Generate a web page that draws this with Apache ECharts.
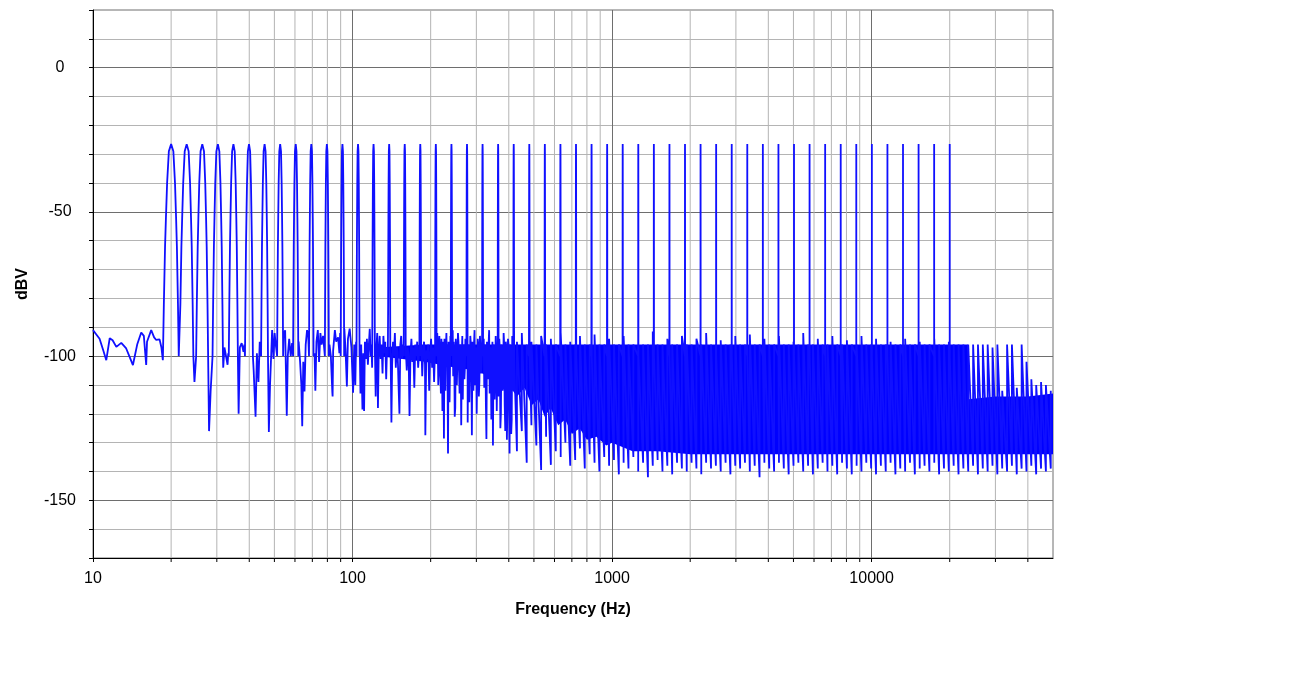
<!DOCTYPE html>
<html>
<head>
  <meta charset="utf-8">
  <script src="https://cdn.jsdelivr.net/npm/echarts@6/dist/echarts.min.js"></script>
  <style>html,body{margin:0;padding:0;background:#fff;}</style>
</head>
<body>
<div id="main" style="width:1289px;height:698px;"></div>
<script type="text/javascript">
// multitone test signal, 51 tones 20 Hz .. 20 kHz
var toneFreqs = [20, 22.96, 26.37, 30.28, 34.76, 39.91, 45.83, 52.62, 60.41, 69.37,
  79.64, 91.44, 105, 120.5, 138.4, 158.9, 182.4, 209.4, 240.5, 276.1,
  317, 363.9, 417.9, 479.8, 550.8, 632.5, 726.2, 833.7, 957.3, 1099,
  1262, 1449, 1664, 1910, 2193, 2518, 2891, 3319, 3811, 4376,
  5024, 5768, 6623, 7604, 8730, 10024, 11509, 13214, 15172, 17419, 20000];

// shape of one tone (offset in Hz from the tone, level in dBV)
var toneOffsetHz = [-1.4, -1.25, -1.05, -0.9, -0.7, -0.4, 0, 0.4, 0.7, 0.9, 1.05, 1.25, 1.4];
var toneShapeDb  = [-100, -82, -62, -52, -40, -29, -26.5, -29, -40, -52, -62, -82, -100];

// noise floor below ~105 Hz
var lowNoise = [
  [10,-91],[10.3,-92.5],[10.6,-94],[10.95,-98],[11.25,-101.4],[11.6,-93.8],[11.9,-94.5],
  [12.3,-96.8],[12.85,-95.4],[13.4,-97.2],[13.8,-100],[14.25,-103.1],[14.8,-96],[15.34,-91.8],
  [15.7,-93],[16.03,-103.1],[16.15,-95],[16.76,-91],[17.2,-93.5],[17.52,-94.4],[18.05,-94.2],
  [18.35,-97],[18.58,-101.4],
  [24.6,-109],
  [28.0,-126],[28.4,-112],
  [31.75,-104],[32.1,-97],[32.6,-96.5],[33.0,-103],[33.2,-99],
  [36.4,-120],[36.8,-97],[37.4,-95.5],[38.0,-98.5],[38.3,-96],
  [41.6,-105],[42.3,-121],[42.8,-99],[43.4,-109],[43.9,-95],[44.2,-97],
  [47.6,-126.3],[48.1,-110],[49,-91],[49.6,-101],[50.1,-92],[50.6,-96],
  [54.2,-93],[55.0,-91],[55.8,-120.7],[56.3,-100],[57,-94],[57.8,-100],[58.5,-95.5],
  [62,-95],[62.8,-102],[63.5,-110],[64,-124.3],[64.6,-102],[65.3,-112.3],[66,-96],[66.8,-91],[67.5,-93],
  [71.4,-99],[71.9,-112],[72.6,-95],[73.5,-91],[74.3,-102],[75.2,-92],[76,-96],[77,-93],
  [81.5,-96],[82.5,-100],[83.6,-112.7],[83.8,-114],[84.2,-98],[85.5,-91],[86.5,-95],[88,-93.5],[89,-99],[89.6,-92],
  [93,-90.5],[94,-98],[95.1,-110.5],[96,-94],[97.5,-90.5],[99,-97],[100.5,-112.7],[101.5,-96],[102.5,-110],[103.2,-95]
];

// noise floor 105 .. 420 Hz
var midNoise = [
  [106.6,-97],[107.3,-113],[108,-96],[109.2,-118.5],[110,-99],[110.8,-119],[111.6,-95],[112.6,-101],
  [113.6,-94],[114.6,-103],[115.5,-96.5],[116.5,-90.5],[117.4,-100],[118.2,-96],[119.0,-104],
  [122.0,-98],[122.8,-114],[123.6,-97],[124.5,-92],[125.3,-118],[126.2,-98],[127.2,-93],[128.3,-101],
  [129.4,-96],[130.5,-106],[131.5,-93],[132.6,-99],[133.7,-95],[134.8,-108],[135.8,-97],[136.8,-100],
  [140.2,-99],[141.2,-123],[142.1,-103],[143.2,-95],[144.4,-100],[145.6,-92],[146.8,-104],[148,-97],
  [149.2,-98.5],[150.4,-110],[151.6,-120],[152.8,-96],[154,-93],[155.3,-101],[156.5,-96],[157.3,-99],
  [160.5,-98],[161.8,-105],[163.1,-97],[164.5,-100],[165.8,-120.8],[167.2,-99],[168.6,-94],[170,-102],
  [171.5,-97],[173,-111],[174.5,-96],[176,-100],[177.5,-95],[179,-104],[180.5,-98],
  [184.2,-96],[185.6,-107],[187,-99],[188.6,-95],[190.2,-103],[190.8,-127.4],[192.4,-98],[194,-101],
  [195.7,-96],[197.4,-112],[199.1,-99],[200.8,-94],[202.6,-104],[204.4,-97],[206.2,-109],[207.8,-98],
  [211,-100],[212,-92],[213,-96],[214,-110],[215,-105],[216,-93],[217,-98],[218,-106],[219,-113],
  [220,-94],[221,-99],[222,-119],[223,-95],[224,-100],[225,-128.6],[226,-94],[227,-101],[228,-112],
  [229,-97],[230,-92],[231,-103],[232,-96],[233.3,-133.8],[234.4,-95],[235.5,-98],[236.5,-116],
  [237.5,-104],[238.3,-93],[239,-97],
  [242,-96],[243.2,-91],[244.3,-107],[245.4,-95],[246.5,-99],[247.6,-121],[248.8,-118],[249.9,-94],
  [251,-97],[252.3,-110],[253.5,-102],[254.8,-92],[256,-95],[257.2,-105],[258.5,-113],[259.8,-96],
  [261,-97],[262.3,-124],[263.5,-101],[264.8,-93],[266,-115],[267.2,-97],[268.5,-96],[269.8,-108],
  [271,-104],[272.2,-94],[273.5,-98],
  [277.8,-123],[279.1,-96],[280.5,-99],[281.8,-116],[283,-106],[284.3,-93],[285.7,-96],[287,-104],
  [288.3,-127.4],[289.6,-95],[291,-100],[292.4,-112],[293.8,-96],[295.2,-91],[296.6,-110],[298,-97],
  [299.5,-98],[300.9,-120],[302.3,-104],[303.7,-94],[305.2,-96],[306.7,-114],[308.2,-109],[309.7,-93],
  [311.2,-97],[312.6,-106],[314,-102],[315.5,-98],
  [318.8,-99],[320.3,-94],[321.8,-111],[323.4,-96],[325,-97],[326.5,-117],[328,-128.7],[329.6,-95],
  [331.2,-100],[332.8,-108],[334.4,-96],[336,-91],[337.6,-113],[339.3,-97],[341,-98],[342.6,-122],
  [344.3,-103],[346,-95],[347.6,-131],[349.3,-96],[351,-97],[352.7,-115],[354.4,-108],[356.1,-93],
  [357.8,-99],[359.5,-119],[361.2,-104],[362.4,-97],
  [366,-114],[367.7,-94],[369.5,-98],[371.2,-125],[373,-120],[374.8,-96],[376.6,-99],[378.4,-112],
  [380.2,-110],[382.1,-92],[384,-96],[385.8,-117],[387.7,-126],[389.5,-95],[391.4,-97],[393.3,-129],
  [395.2,-118],[397.1,-94],[399,-96],[400.9,-112],[402.8,-133.8],[404.7,-96],[406.7,-98],[408.6,-127],
  [410.6,-122],[412.5,-93],[414.5,-96],[416.4,-112]
];

// dense noise band: solid core (upper and lower edge)
var bandFreqs  = [125, 190, 250, 300, 350, 400, 430, 460, 490, 520, 550, 580, 620, 660, 700, 750,
  800, 870, 950, 1000, 1200, 1500, 2000, 3000, 23500, 23600, 30000, 40000, 50000];
var bandTop    = [-97, -96, -96, -96, -96, -96, -96, -96, -96, -96, -96, -96, -96, -96, -96, -96,
  -96, -96, -96, -96, -96, -96, -96, -96, -96, -115, -114, -114, -113];
var bandBottom = [-100, -102, -104, -105, -108, -110, -114, -111, -117, -115, -121, -118, -124, -122, -127, -125,
  -129, -128, -131, -130, -133, -133, -134, -134, -134, -134, -134, -134, -134];

// dense noise band: spikes below and above the core
var spikeFreqs = [430, 449, 469, 489, 511, 533, 557, 581, 607, 634, 661, 690, 721, 752, 785, 820,
  856, 894, 933, 974, 1017, 1062, 1108, 1157, 1208, 1261, 1317, 1375, 1435, 1498, 1564, 1633,
  1705, 1780, 1858, 1940, 2025, 2114, 2207, 2304, 2406, 2512, 2622, 2738, 2858, 2984, 3115, 3252,
  3395, 3545, 3701, 3863, 4033, 4211, 4396, 4590, 4792, 5002, 5223, 5452, 5692, 5943, 6204, 6477,
  6762, 7060, 7370, 7695, 8033, 8387, 8756, 9141, 9543, 9963, 10402, 10859, 11337, 11836, 12357, 12901,
  13468, 14061, 14680, 15326, 16000, 16704, 17439, 18206, 19007, 19844, 20717, 21628, 22580, 23573, 24610, 25693,
  26824, 28004, 29236, 30523, 31866, 33268, 34732, 36260, 37855, 39521, 41260, 43075, 44970, 46949, 49015];
var spikeLow = [-133, -126, -137, -124, -131, -139.5, -128, -137.7, -133, -135, -130, -138, -136, -132, -139, -134,
  -137, -140, -135, -138, -136, -141, -137, -139, -135, -140, -137, -142, -138, -136, -140, -138,
  -141, -137, -139, -140, -137, -139, -141, -137, -139, -138, -140, -137, -141, -138, -139, -137,
  -140, -138, -142, -137, -139, -140, -137, -139, -141, -138, -137, -140, -138, -141, -139, -137,
  -140, -138, -141, -137, -139, -141, -138, -140, -137, -139, -141, -138, -140, -137, -141, -139,
  -140, -137, -141, -139, -138, -140, -137, -141, -139, -140, -138, -141, -139, -140, -138, -141,
  -139, -140, -138, -141, -139, -140, -138, -141, -139, -140, -138, -141, -139, -140, -139];
var spikeHigh = [-95, -92, -96, -95, -96, -93, -96, -94, -96, -92, -96, -95, -96, -93, -96, -96,
  -92.5, -96, -96, -94, -96, -96, -93, -96, -96, -94, -96, -96, -91.5, -96, -96, -94,
  -96, -96, -93, -96, -96, -94, -96, -92, -96, -96, -94.5, -96, -96, -93, -96, -96,
  -92.5, -96, -96, -94, -96, -96, -93, -96, -96, -95, -96, -92, -96, -96, -94, -96,
  -96, -93, -96, -96, -94.5, -96, -96, -93, -96, -96, -94, -96, -96, -95, -96, -96,
  -94, -96, -96, -95, -96, -96, -94, -96, -96, -95, -96, -96, -96, -96, -96, -96,
  -96, -96, -97, -96, -112, -96, -96, -111, -96, -102, -108, -110, -109, -110, -112];

// extra vertical grid lines inside each decade
var minorFreqs = [20, 30, 40, 50, 60, 70, 80, 90, 200, 300, 400, 500, 600, 700, 800, 900,
  2000, 3000, 4000, 5000, 6000, 7000, 8000, 9000, 20000, 30000, 40000];

var trace = lowNoise.concat(midNoise);
toneFreqs.forEach(function (f) {
  for (var i = 0; i < toneOffsetHz.length; i++) {
    trace.push([f + toneOffsetHz[i], toneShapeDb[i]]);
  }
});
spikeFreqs.forEach(function (f, i) {
  trace.push([f, spikeLow[i]]);
  trace.push([f, spikeHigh[i]]);
});
trace.sort(function (a, b) { return a[0] - b[0]; });

var minorColor = '#b4b4b4';
var majorColor = '#6e6e6e';
var font = "'Liberation Sans', Arial, sans-serif";

var myChart = echarts.init(document.getElementById('main'));
myChart.setOption({
  animation: false,
  backgroundColor: '#fff',
  grid: { left: 93, right: 236, top: 10, bottom: 140, show: true, borderColor: majorColor, borderWidth: 1 },
  xAxis: {
    type: 'log', logBase: 10, min: 10, max: 50000,
    name: 'Frequency (Hz)', nameLocation: 'middle', nameGap: 44,
    nameTextStyle: { fontFamily: font, fontSize: 16, fontWeight: 'bold', color: '#000' },
    axisLine: { show: true, onZero: false, lineStyle: { color: '#000', width: 1 } },
    axisTick: { show: true, length: 4, lineStyle: { color: '#000' } },
    axisLabel: {
      margin: 13, fontFamily: font, fontSize: 16, color: '#000', showMaxLabel: false,
      formatter: function (v) {
        var l = Math.log(v) / Math.LN10;
        return Math.abs(l - Math.round(l)) < 1e-6 ? String(Math.round(v)) : '';
      }
    },
    splitLine: { show: true, showMaxLine: false, lineStyle: { color: majorColor, width: 1 } }
  },
  yAxis: {
    type: 'value', min: -170, max: 20, interval: 10,
    name: 'dBV', nameLocation: 'middle', nameGap: 62, nameRotate: 90,
    nameTextStyle: { fontFamily: font, fontSize: 16, fontWeight: 'bold', color: '#000' },
    axisLine: { show: true, onZero: false, lineStyle: { color: '#000', width: 1 } },
    axisTick: { show: true, length: 4, lineStyle: { color: '#000' } },
    axisLabel: {
      margin: 33, align: 'center', fontFamily: font, fontSize: 16, color: '#000',
      formatter: function (v) { return v % 50 === 0 ? String(v) : ''; }
    },
    splitLine: {
      show: true, showMaxLine: false,
      lineStyle: { color: [minorColor, minorColor, majorColor, minorColor, minorColor], width: 1 }
    }
  },
  series: [
    {
      type: 'custom',
      z: 1,
      silent: true,
      data: minorFreqs.map(function (f) { return [f, -170]; }),
      renderItem: function (params, api) {
        var top = api.coord([api.value(0), 20]);
        var bot = api.coord([api.value(0), -170]);
        return {
          type: 'group',
          children: [
            { type: 'line', shape: { x1: top[0], y1: top[1], x2: bot[0], y2: bot[1] },
              style: { stroke: minorColor, lineWidth: 1 } },
            { type: 'line', shape: { x1: bot[0], y1: bot[1], x2: bot[0], y2: bot[1] + 4 },
              style: { stroke: '#000', lineWidth: 1 } }
          ]
        };
      }
    },
    {
      type: 'custom',
      z: 3,
      silent: true,
      clip: true,
      data: [[1000, -110]],
      renderItem: function (params, api) {
        var pts = [];
        for (var i = 0; i < bandFreqs.length; i++) pts.push(api.coord([bandFreqs[i], bandTop[i]]));
        for (var j = bandFreqs.length - 1; j >= 0; j--) pts.push(api.coord([bandFreqs[j], bandBottom[j]]));
        return { type: 'polygon', shape: { points: pts }, style: { fill: '#0000ff' } };
      }
    },
    {
      type: 'line',
      z: 4,
      data: trace,
      showSymbol: false,
      symbol: 'none',
      clip: true,
      silent: true,
      lineStyle: { color: '#1010ff', width: 1.8 }
    }
  ]
});
</script>
</body>
</html>
